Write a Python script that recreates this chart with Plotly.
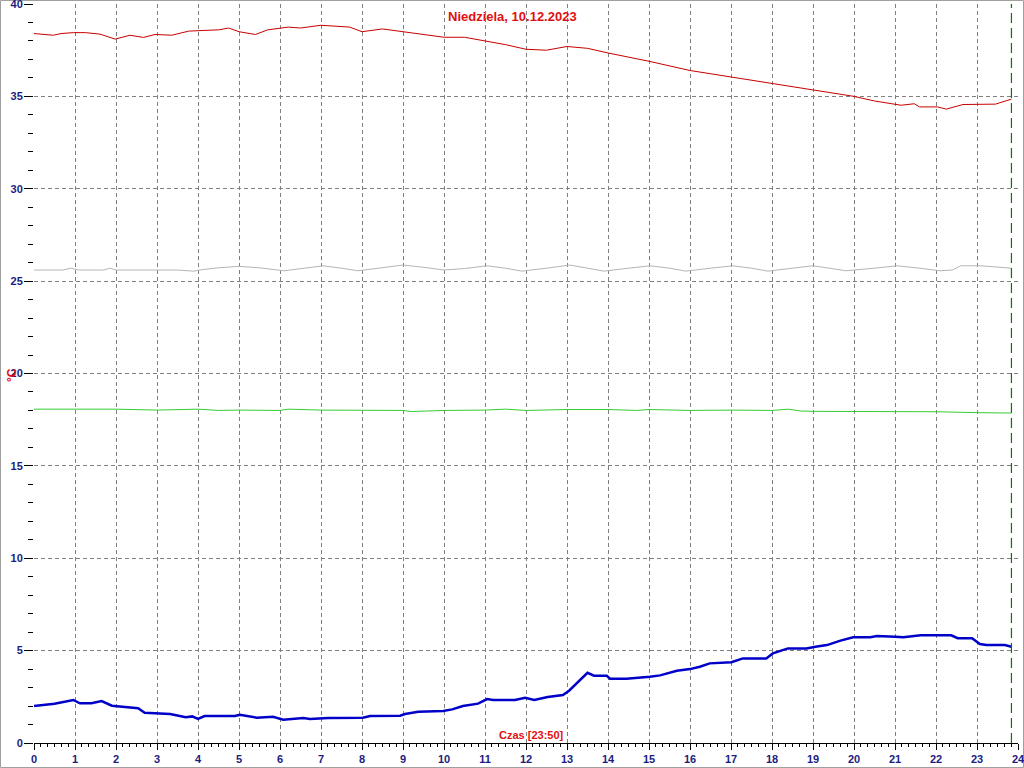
import plotly.graph_objects as go

# ---- data ----
red_h = [0, 0.47, 0.66, 0.96, 1.25, 1.61, 1.98, 2.34, 2.67, 2.95, 3.36, 3.77, 4.05, 4.5, 4.75, 5.0, 5.4, 5.7,
         6.2, 6.5, 7.0, 7.7, 8.0, 8.5, 9.0, 9.5, 10.0, 10.5, 11.0, 11.5, 12.0, 12.5, 13.0, 13.5, 14.0,
         15.0, 16.0, 17.0, 18.0, 19.0, 20.0, 20.5, 21.15, 21.47, 21.6, 22.04, 22.25, 22.66, 23.07, 23.3, 23.45, 23.84]
red_v = [38.4, 38.31, 38.4, 38.45, 38.45, 38.37, 38.1, 38.31, 38.19, 38.35, 38.31, 38.53, 38.56, 38.6, 38.7, 38.5,
         38.35, 38.6, 38.75, 38.7, 38.85, 38.75, 38.5, 38.65, 38.5, 38.35, 38.2, 38.2, 38.0, 37.8, 37.55, 37.5,
         37.7, 37.6, 37.35, 36.9, 36.4, 36.05, 35.7, 35.35, 35.0, 34.75, 34.52, 34.6, 34.43, 34.43, 34.31, 34.56,
         34.56, 34.6, 34.58, 34.85]

gray_h = [0, 0.7, 0.9, 1.1, 1.7, 1.85, 2.0, 2.5, 3.0, 3.5, 3.9, 4.1, 4.5, 5.0, 5.5, 6.1, 6.6, 7.05, 7.5, 7.9,
          8.4, 9.0, 9.5, 10.0, 10.5, 11.05, 11.5, 11.9, 12.5, 13.07, 13.5, 13.9, 14.5, 15.03, 15.5, 15.9, 16.5,
          17.05, 17.5, 17.9, 18.5, 19.0, 19.4, 19.8, 20.5, 21.05, 21.6, 22.1, 22.4, 22.6, 23.1, 23.5, 23.84]
gray_v = [25.6, 25.6, 25.7, 25.6, 25.6, 25.7, 25.6, 25.6, 25.6, 25.6, 25.54, 25.62, 25.72, 25.8, 25.72, 25.56,
          25.7, 25.83, 25.7, 25.56, 25.7, 25.87, 25.75, 25.6, 25.68, 25.83, 25.7, 25.54, 25.7, 25.87, 25.7, 25.54,
          25.7, 25.83, 25.7, 25.54, 25.7, 25.83, 25.7, 25.54, 25.7, 25.83, 25.7, 25.56, 25.7, 25.83, 25.7, 25.56,
          25.6, 25.83, 25.83, 25.75, 25.7]

green_h = [0, 2, 3, 4, 4.5, 5, 6, 6.2, 7, 8, 9, 9.2, 10, 11, 11.5, 12, 13, 14, 14.7, 15, 16, 17, 18, 18.4, 18.7,
           19, 20, 21, 22, 23, 23.84]
green_v = [18.07, 18.07, 18.02, 18.07, 18.0, 18.02, 18.0, 18.07, 18.02, 18.0, 18.0, 17.94, 18.0, 18.02, 18.07,
           18.0, 18.05, 18.05, 18.0, 18.05, 18.0, 18.02, 18.0, 18.07, 17.97, 17.95, 17.95, 17.93, 17.93, 17.88, 17.86]

blue_h = [0, 0.5, 0.96, 1.12, 1.4, 1.65, 1.9, 2.34, 2.54, 2.7, 3.32, 3.7, 3.86, 4.0, 4.16, 4.9, 5.02, 5.43, 5.83,
          6.08, 6.33, 6.57, 6.73, 7.18, 8.02, 8.2, 8.93, 9.05, 9.37, 9.98, 10.2, 10.46, 10.83, 11.05, 11.2, 11.73,
          11.98, 12.2, 12.53, 12.9, 13.05, 13.32, 13.5, 13.66, 13.97, 14.05, 14.45, 15.02, 15.27, 15.68, 16.0,
          16.24, 16.48, 17.01, 17.29, 17.86, 18.02, 18.39, 18.84, 19.06, 19.34, 19.67, 19.98, 20.4, 20.56, 21.0,
          21.2, 21.63, 22.37, 22.53, 22.88, 23.07, 23.23, 23.68, 23.84]
blue_v = [2.0, 2.12, 2.33, 2.15, 2.15, 2.27, 2.02, 1.93, 1.88, 1.64, 1.57, 1.39, 1.44, 1.3, 1.46, 1.46, 1.53, 1.37,
          1.42, 1.26, 1.3, 1.35, 1.3, 1.35, 1.37, 1.46, 1.48, 1.57, 1.69, 1.73, 1.82, 2.0, 2.13, 2.38, 2.33, 2.33,
          2.45, 2.33, 2.49, 2.6, 2.83, 3.41, 3.8, 3.64, 3.64, 3.48, 3.48, 3.59, 3.66, 3.91, 4.0, 4.13, 4.31, 4.37,
          4.58, 4.58, 4.85, 5.12, 5.12, 5.21, 5.3, 5.54, 5.72, 5.72, 5.79, 5.75, 5.72, 5.83, 5.83, 5.67, 5.67, 5.36,
          5.3, 5.3, 5.21]

x_ticks = list(range(0, 25))
y_ticks = [0, 5, 10, 15, 20, 25, 30, 35, 40]
title_text = "Niedziela, 10.12.2023"
xlabel_text = "Czas [23:50]"
ylabel_text = "°C"
now_h = 23.84

FONT = "Arial, Liberation Sans, sans-serif"
NAVY = "#1c1c80"
RED = "#e01010"
PW, PH = 984, 739  # plot area size in px

fig = go.Figure()
fig.add_trace(go.Scatter(x=gray_h, y=gray_v, mode="lines", line=dict(color="#b4b4b4", width=1), hoverinfo="skip"))
fig.add_trace(go.Scatter(x=green_h, y=green_v, mode="lines", line=dict(color="#33cc33", width=1), hoverinfo="skip"))
fig.add_trace(go.Scatter(x=red_h, y=red_v, mode="lines", line=dict(color="#c80000", width=1), hoverinfo="skip"))
fig.add_trace(go.Scatter(x=blue_h, y=blue_v, mode="lines", line=dict(color="#0000c8", width=2.5), hoverinfo="skip"))

# current-time marker
fig.add_shape(type="line", xref="x", yref="y", x0=now_h, x1=now_h, y0=0, y1=40, layer="above",
              line=dict(color="#007a00", width=1.2, dash="10px,5px"))
# outer frame
fig.add_shape(type="rect", xref="paper", yref="paper",
              x0=-33.5 / PW, x1=1 + 5.5 / PW, y0=-24.5 / PH, y1=1 + 3.5 / PH,
              line=dict(color="#a0a0a0", width=1), fillcolor="rgba(0,0,0,0)", layer="below")

GRID = dict(showgrid=True, gridcolor="#808080", griddash="4px,3px", gridwidth=1, zeroline=False,
            automargin=False, fixedrange=True, tickcolor="black", tickwidth=1, ticklabeloverflow="allow")

fig.update_layout(
    width=1024, height=768,
    margin=dict(l=34, r=6, t=4, b=25, autoexpand=False),
    paper_bgcolor="white", plot_bgcolor="white",
    showlegend=False,
    xaxis=dict(range=[0, 24], tickvals=x_ticks, showline=True, linecolor="black", linewidth=1,
               ticks="outside", ticklen=6, ticklabelstandoff=0,
               minor=dict(dtick=1 / 6, ticks="outside", ticklen=3, tickcolor="black", showgrid=False),
               tickfont=dict(family=FONT, size=11, color=NAVY, weight="bold"), **GRID),
    yaxis=dict(range=[0, 40], tickvals=y_ticks, showline=False,
               ticks="outside", ticklen=9, ticklabelstandoff=-1,
               minor=dict(dtick=1, ticks="outside", ticklen=5, tickcolor="black", showgrid=False),
               tickfont=dict(family=FONT, size=11, color=NAVY, weight="bold"), **GRID),
    annotations=[
        dict(text=title_text, xref="paper", yref="paper", x=(512 - 34) / PW, y=1 - 13 / PH,
             xanchor="center", yanchor="middle", showarrow=False,
             font=dict(family=FONT, size=13, color=RED, weight="bold")),
        dict(text=xlabel_text, xref="paper", yref="paper", x=(531 - 34) / PW, y=0, yanchor="bottom",
             xanchor="center", showarrow=False, font=dict(family=FONT, size=11, color=RED, weight="bold")),
        dict(text=ylabel_text, xref="paper", yref="paper", x=-22 / PW, y=(743 - 375) / PH, textangle=-90,
             xanchor="center", yanchor="middle", showarrow=False,
             font=dict(family=FONT, size=12, color=RED, weight="bold")),
    ],
)

fig.write_html("out.html", config={"displayModeBar": False, "staticPlot": True},
               post_script="document.body.style.margin='0';")
